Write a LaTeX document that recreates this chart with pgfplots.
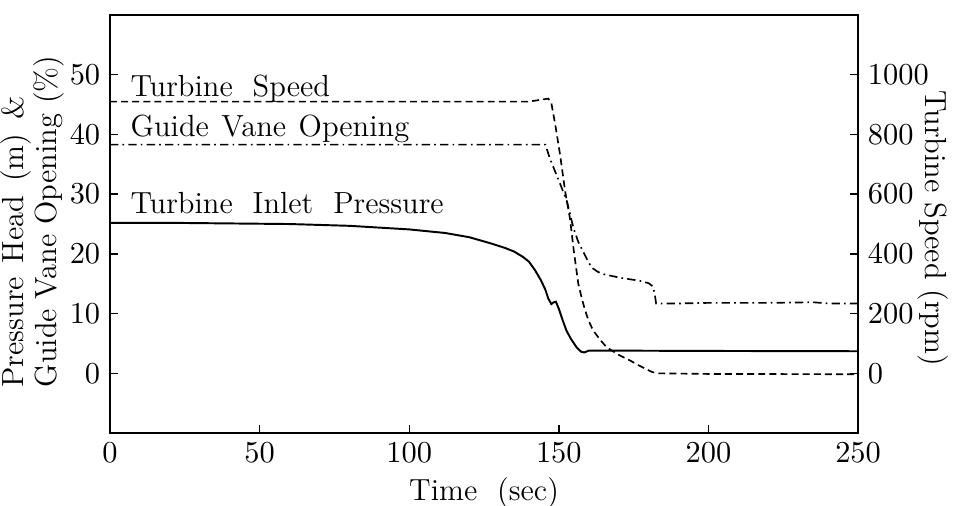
\documentclass[border=0pt]{standalone}
\usepackage{pgfplots}
\pgfplotsset{compat=1.18}
\begin{document}
\begin{tikzpicture}[font=\fontsize{11}{13}\selectfont]
\pgfplotsset{every axis/.append style={font=\fontsize{11}{13}\selectfont}}
\begin{axis}[name=main, scale only axis, width=269.3pt, height=150.5pt,
  xmin=0, xmax=250, ymin=-10, ymax=60,
  xtick={0,50,...,250}, ytick={0,10,...,50},
  xtick pos=bottom, ytick pos=left, tick align=inside, major tick length=3pt,
  axis line style={line width=0.6pt}, every tick/.style={black, line width=0.5pt},
  xlabel={Time\ \ (sec)},
  ylabel={Pressure\hspace{5pt}Head\hspace{5pt}(m)\hspace{5pt}\&\\Guide Vane Opening (\%)},
  xlabel style={at={(axis description cs:0.5,-0.105)}, anchor=north, inner sep=0pt},
  ylabel style={at={(axis description cs:-0.0607,0.108)}, anchor=south west, align=left, inner sep=0pt, font=\fontsize{11}{10.4}\selectfont},
  clip=false]
\addplot[black, line width=0.7pt] coordinates {
(0,25.2) (20,25.2) (40,25.1) (60,25.0) (80,24.7) (90,24.4) (100,24.1) (112,23.5)
(120,22.8) (127,21.8) (132,21.0) (135,20.4) (138,19.5) (140,18.7) (142,17.3)
(144,15.6) (145.5,14.0) (146.5,12.5) (147.5,11.6) (148.3,11.9) (149,12.0)
(150,10.8) (151,9.3) (152.5,7.2) (154,5.8) (156,4.3) (157.5,3.6) (158.5,3.5)
(160,3.8) (170,3.8) (200,3.75) (250,3.7)};
\addplot[black, line width=0.6pt, dash pattern=on 3pt off 1.5pt on 0.6pt off 1.5pt] coordinates {
(0,38.3) (145.5,38.3) (147,36) (149,33.5) (151,31) (152.7,28.8) (154.9,24.3)
(156.5,22) (158,20.5) (159.5,19) (161,17.7) (163,17) (165,16.6) (170.5,16)
(177,15.5) (180,15.1) (181.3,14.6) (182,13.5) (182.5,11.7) (190,11.7) (200,11.8)
(220,11.8) (235,11.9) (240,11.7) (250,11.7)};
\node[anchor=base west, inner sep=0pt] at (axis cs:6.7,46.3) {Turbine\ \ Speed};
\node[anchor=base west, inner sep=0pt] at (axis cs:6.7,39.7) {Guide\hspace{4.5pt}Vane\hspace{4.5pt}Opening};
\node[anchor=base west, inner sep=0pt] at (axis cs:6.7,26.7) {Turbine\ \ Inlet\ \ Pressure};
\end{axis}
\begin{axis}[scale only axis, width=269.3pt, height=150.5pt,
  xmin=0, xmax=250, ymin=-200, ymax=1200,
  axis x line=none, axis y line*=right,
  ytick={0,200,...,1000}, tick align=inside, major tick length=3pt,
  /pgf/number format/1000 sep={},
  axis line style={line width=0.6pt}, every tick/.style={black, line width=0.5pt},
  ylabel={Turbine Speed (rpm)},
  ylabel style={rotate=180, at={(axis description cs:1.1,0.49)}, anchor=center, inner sep=0pt}]
\addplot[black, line width=0.6pt, dash pattern=on 2.5pt off 1.5pt] coordinates {
(0,910) (140,910) (146.5,920) (147.5,905) (148.8,833) (150.4,733) (152.1,610)
(153.7,520) (155,410) (156.5,300) (157.7,250) (158.8,210) (160,175) (161.5,143)
(164,110) (166,87) (170,62) (173.8,43) (177,25) (181,5) (183,0) (200,-2) (250,-3)};
\end{axis}
\pgfresetboundingbox
\path ([xshift=-39.6pt,yshift=-25.9pt]main.south west) rectangle ([xshift=34.9pt,yshift=5.4pt]main.north east);
\end{tikzpicture}
\end{document}
